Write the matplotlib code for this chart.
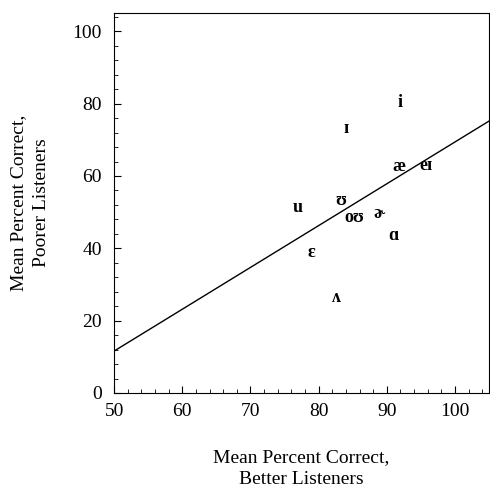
import numpy as np
import matplotlib.pyplot as plt
from matplotlib.ticker import MultipleLocator

plt.rcParams['font.family'] = ['Liberation Serif', 'DejaVu Serif']

vowels = ['i', 'ɪ', 'æ', 'eɪ', 'ʊ', 'u', 'oʊ', 'ɚ', 'ɑ', 'ɛ', 'ʌ']
better = [92.0, 84.0, 91.8, 95.7, 83.3, 76.9, 85.2, 88.8, 91.0, 78.9, 82.6]
poorer = [80.2, 73.0, 62.5, 62.8, 53.2, 51.2, 48.5, 49.6, 43.5, 38.8, 26.4]

# regression line
slope = 1.156
intercept = -46.2

fig = plt.figure(figsize=(4.9, 4.9), dpi=100)
ax = fig.add_axes([0.233, 0.198, 0.765, 0.775])

for v, x, y in zip(vowels, better, poorer):
    ax.text(x, y, v, ha='center', va='center', fontsize=13, fontweight='bold')

xs = np.array([50, 105])
ax.plot(xs, slope * xs + intercept, color='black', lw=1)

ax.set_xlim(50, 105)
ax.set_ylim(0, 105)
ax.xaxis.set_major_locator(MultipleLocator(10))
ax.xaxis.set_minor_locator(MultipleLocator(2))
ax.yaxis.set_major_locator(MultipleLocator(20))
ax.yaxis.set_minor_locator(MultipleLocator(4))
ax.tick_params(which='both', direction='in', top=False, right=False, labelsize=14)
ax.tick_params(which='major', length=5, pad=7)
ax.tick_params(which='minor', length=3)
ax.tick_params(axis='y', pad=9)

ax.set_xlabel('Mean Percent Correct,\nBetter Listeners', fontsize=14,
              labelpad=21, linespacing=1.4)
ax.set_ylabel('Mean Percent Correct,\nPoorer Listeners', fontsize=14,
              labelpad=16, linespacing=1.45)

fig.savefig('out.png')
